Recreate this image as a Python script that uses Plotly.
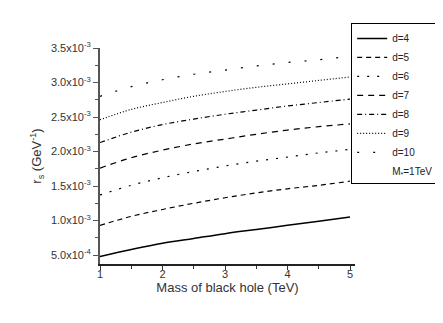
import plotly.graph_objects as go

mass = [1.0, 1.5, 2.0, 2.5, 3.0, 3.5, 4.0, 4.5, 5.0]

r_d4 = [0.48, 0.58, 0.67, 0.74, 0.81, 0.87, 0.93, 0.99, 1.05]
r_d5 = [0.93, 1.06, 1.16, 1.25, 1.33, 1.40, 1.46, 1.51, 1.57]
r_d6 = [1.37, 1.51, 1.62, 1.71, 1.79, 1.86, 1.92, 1.98, 2.03]
r_d7 = [1.76, 1.91, 2.02, 2.11, 2.18, 2.25, 2.31, 2.36, 2.40]
r_d8 = [2.13, 2.28, 2.39, 2.47, 2.54, 2.60, 2.66, 2.71, 2.76]
r_d9 = [2.46, 2.61, 2.71, 2.80, 2.87, 2.93, 2.98, 3.03, 3.08]
r_d10 = [2.80, 2.94, 3.04, 3.12, 3.18, 3.24, 3.29, 3.33, 3.38]

series = [
    ("d=4", r_d4, "solid", 1.5),
    ("d=5", r_d5, "5px,4px", 1.2),
    ("d=6", r_d6, "2px,8px", 1.2),
    ("d=7", r_d7, "6px,5px", 1.2),
    ("d=8", r_d8, "5px,3px,1px,3px", 1.2),
    ("d=9", r_d9, "1px,2px", 1.2),
    ("d=10", r_d10, "2px,14px", 1.2),
]

y_ticks = [0.5, 1.0, 1.5, 2.0, 2.5, 3.0, 3.5]
y_tick_text = ["5.0x10<sup>-4</sup>"] + [
    f"{v:.1f}x10<sup>-3</sup>" for v in y_ticks[1:]
]
x_ticks = [1, 2, 3, 4, 5]

fig = go.Figure()

for name, vals, dash, width in series:
    fig.add_trace(
        go.Scatter(
            x=mass,
            y=vals,
            mode="lines",
            name=name,
            line=dict(color="black", width=width, dash=dash, shape="spline"),
        )
    )

# label-only legend entry
fig.add_trace(
    go.Scatter(
        x=[None],
        y=[None],
        mode="lines",
        name="M<sub>*</sub>=1TeV",
        line=dict(color="rgba(0,0,0,0)", width=0),
    )
)

font = dict(family="Arial", size=11, color="#333")

# page body adds an 8px offset, so margins are shifted to compensate
fig.update_layout(
    width=443,
    height=323,
    margin=dict(l=92, r=89, t=40, b=67),
    paper_bgcolor="white",
    plot_bgcolor="white",
    font=font,
    legend=dict(
        x=0.985,
        y=1.116,
        xanchor="left",
        yanchor="top",
        bordercolor="black",
        borderwidth=1,
        bgcolor="white",
        font=dict(family="Arial", size=10, color="#222"),
        tracegroupgap=0,
    ),
    xaxis=dict(
        range=[1, 5.08],
        tickvals=x_ticks,
        ticks="outside",
        ticklen=4,
        tickcolor="#333",
        ticklabelstandoff=-5,
        showline=True,
        linecolor="#222",
        linewidth=1.5,
        showgrid=False,
        zeroline=False,
        minor=dict(dtick=0.5, ticks="outside", ticklen=3, tickcolor="#333"),
        title=dict(text="Mass of black hole (TeV)", standoff=2),
    ),
    yaxis=dict(
        range=[0.37, 3.5],
        tickvals=y_ticks,
        ticktext=y_tick_text,
        ticks="outside",
        ticklen=5,
        tickcolor="#555",
        showline=True,
        linecolor="#555",
        linewidth=2,
        showgrid=False,
        zeroline=False,
        minor=dict(dtick=0.25, ticks="outside", ticklen=3, tickcolor="#555"),
        title=dict(text="r<sub>s</sub> (GeV<sup>-1</sup>)", standoff=6),
    ),
)

fig.write_html("out.html")
